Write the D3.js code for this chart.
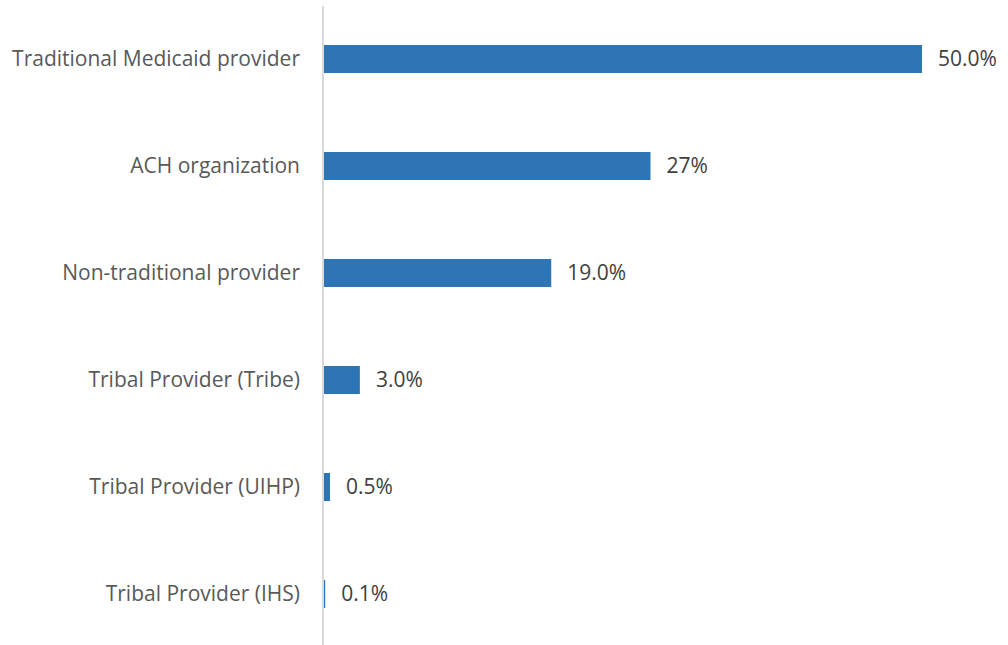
<!DOCTYPE html>
<html><head><meta charset="utf-8">
<script src="https://cdn.jsdelivr.net/npm/d3@7"></script>
<style>body{margin:0;background:#fff}svg{display:block}</style>
</head><body>
<svg id="c" width="1008" height="645"></svg>
<script>
const categories = ["Traditional Medicaid provider","ACH organization","Non-traditional provider","Tribal Provider (Tribe)","Tribal Provider (UIHP)","Tribal Provider (IHS)"];
const values = [50.0, 27.3, 19.0, 3.0, 0.5, 0.1];
const valueLabels = ["50.0%","27%","19.0%","3.0%","0.5%","0.1%"];

const svg = d3.select("#c");
const x = d3.scaleLinear().domain([0, 50]).range([324, 922]);
const y = d3.scaleBand().domain(categories).range([5.5, 647.5]).paddingInner(0.738).paddingOuter(0.369);
const font = "'Open Sans', 'Liberation Sans', sans-serif";

svg.selectAll("rect.bar").data(values).join("rect")
  .attr("class","bar")
  .attr("x", x(0))
  .attr("y", (d,i) => y(categories[i]))
  .attr("width", d => x(d) - x(0))
  .attr("height", y.bandwidth())
  .attr("fill", "#2e75b6");

svg.append("line").attr("x1",323).attr("x2",323).attr("y1",6).attr("y2",645)
  .attr("stroke","#d9d9d9").attr("stroke-width",2);

const yAxis = d3.axisLeft(y).tickSize(0).tickPadding(0);
const g = svg.append("g").attr("transform","translate(300,0)").call(yAxis);
g.select(".domain").remove();
g.selectAll("text").attr("font-family",font).attr("font-size","21px").attr("fill","#595959");

svg.selectAll("text.val").data(values).join("text")
  .attr("class","val")
  .attr("x", d => x(d) + 16)
  .attr("y", (d,i) => y(categories[i]) + y.bandwidth()/2)
  .attr("dy","0.35em")
  .attr("font-family",font).attr("font-size","21px").attr("fill","#404040")
  .text((d,i) => valueLabels[i]);
</script>
</body></html>
